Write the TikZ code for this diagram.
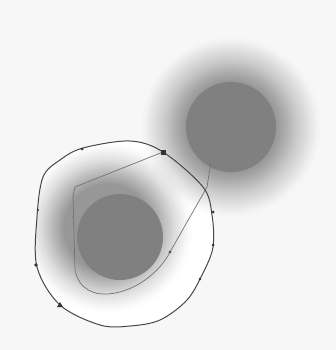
\documentclass[tikz,border=0pt]{standalone}
\usetikzlibrary{arrows.meta}
\begin{document}
\begin{tikzpicture}[x=1pt,y=-1pt,
  boundary/.style={draw=black!72,line width=1pt},
  innerpath/.style={draw=black!55,line width=0.7pt},
  tick/.style={fill=black!80},
  disc/.style={fill=gray}]
\useasboundingbox (0,0) rectangle (336,350);
\fill[gray!6] (0,0) rectangle (336,350);
\coordinate (lowc) at (120,237);
\coordinate (lowh) at (108,228);
\coordinate (upc) at (231,127);
\def\curvepath{plot[smooth cycle, tension=0.55] coordinates {(130,141) (163,152) (203,187) (212,215) (213,247) (203,273) (187,300) (160,320) (130,326) (100,325) (60,305) (37,267) (37,217) (43,177) (60,160) (83,148)}}
% lower halo inside the boundary
\begin{scope}
  \clip \curvepath;
  \fill[white] (0,0) rectangle (336,350);
  \foreach \n in {1,...,42} {
    \pgfmathsetmacro\r{86-\n}
    \pgfmathsetmacro\ca{0.74*((\n-1)/42)^1.5}
    \pgfmathsetmacro\cb{0.74*(\n/42)^1.5}
    \pgfmathsetmacro\b{1-(1-\cb)/(1-\ca)}
    \fill[gray, fill opacity=\b] (lowh) circle (\r pt);
  }
\end{scope}
% upper halo
\foreach \n in {1,...,46} {
  \pgfmathsetmacro\r{91-\n}
  \pgfmathsetmacro\ca{0.76*((\n-1)/46)^1.3}
  \pgfmathsetmacro\cb{0.76*(\n/46)^1.3}
  \pgfmathsetmacro\b{1-(1-\cb)/(1-\ca)}
  \fill[gray, fill opacity=\b] (upc) circle (\r pt);
}
% discs
\fill[disc] (lowc) circle (43pt);
\fill[disc] (upc) circle (45pt);
% inner path
\coordinate (p1) at (163,152);
\coordinate (p2) at (75,187);
\coordinate (p3) at (73,197);
\coordinate (p4) at (75,270);
\coordinate (p5) at (108,294);
\coordinate (p6) at (170,252);
\coordinate (p7) at (207,187);
\coordinate (p8) at (211,162);
\draw[innerpath] (p1) -- (p2) -- (p3) -- (p4) .. controls (79,290) and (95,295) .. (p5)
  .. controls (135,292) and (160,272) .. (p6) -- (p7) -- (p8);
\fill[black!65] (p6) circle (1.6pt);
% boundary curve
\draw[boundary] \curvepath;
% marks on the boundary
\fill[tick] (p1) ++(-2.5pt,-2.5pt) rectangle ++(5pt,5pt);
\coordinate (m1) at (213,212);
\coordinate (m2) at (213,245);
\coordinate (m3) at (200,279);
\coordinate (m4) at (60,305);
\coordinate (m5) at (36,265);
\coordinate (m6) at (82,149);
\coordinate (m7) at (38,210);
\fill[tick] (m1) circle (1.5pt);
\fill[tick] (m2) circle (1.5pt);
\fill[tick] (m3) circle (1.3pt);
\fill[tick] (m4) ++(-3pt,-2pt) -- ++(6pt,0pt) -- ++(-3pt,5pt) -- cycle;
\fill[tick] (m5) circle (1.8pt);
\fill[tick] (m6) circle (1.5pt);
\fill[tick] (m7) circle (1.2pt);
\end{tikzpicture}
\end{document}
